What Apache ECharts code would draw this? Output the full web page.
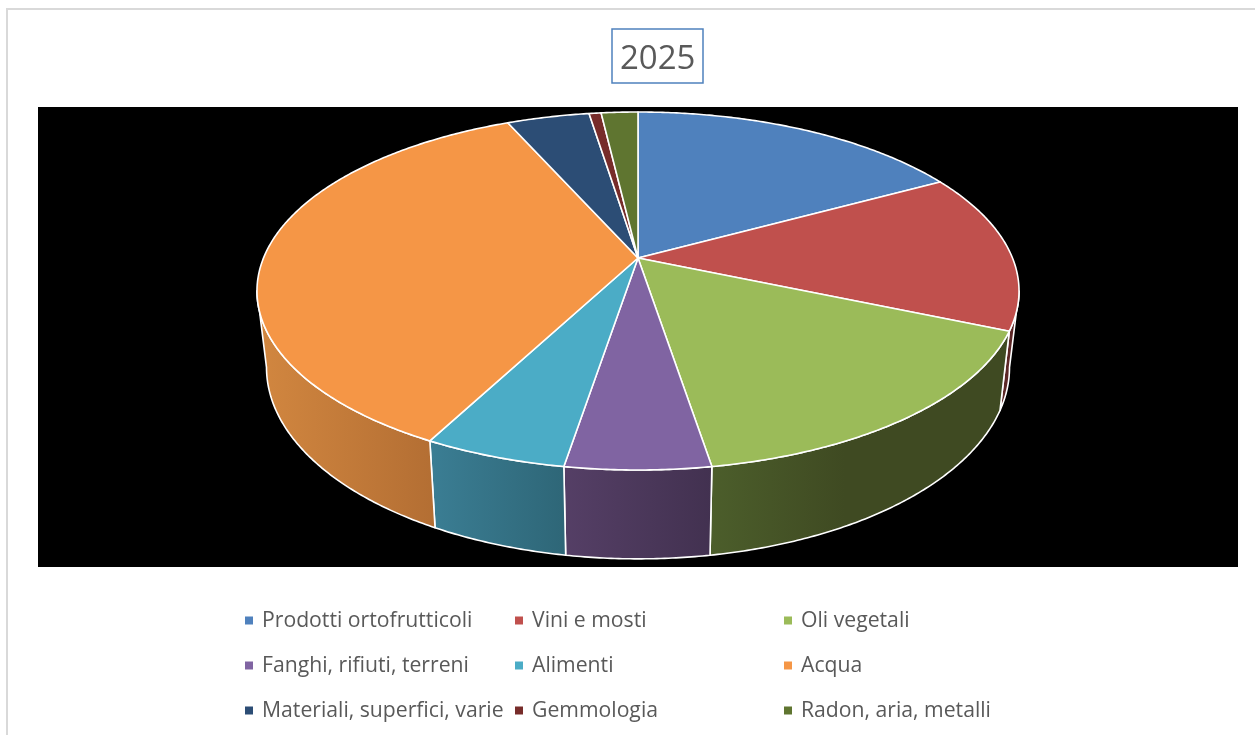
<!DOCTYPE html>
<html><head><meta charset="utf-8">
<style>html,body{margin:0;padding:0;background:#fff}#c{width:1255px;height:735px}</style>
<script src="https://cdn.jsdelivr.net/npm/echarts@6/dist/echarts.min.js"></script>
</head><body><div id="c"></div>
<script>
const titleText = '2025';
const categories = ['Prodotti ortofrutticoli','Vini e mosti','Oli vegetali','Fanghi, rifiuti, terreni','Alimenti','Acqua','Materiali, superfici, varie','Gemmologia','Radon, aria, metalli'];
const shares = [17.06,14.36,16.0,5.17,5.11,35.64,4.19,0.61,1.86];
const topColors = ['#4f81bd','#c0504d','#9bbb59','#8064a2','#4bacc6','#f59646','#2c4d75','#772c2a','#5f7530'];
const sideLeft = ['#3f6797','#5e2a28','#4c5e2b','#553f66','#3b7e94','#d28740','#23405f','#5e2321','#4c5d26'];
const sideRight = ['#3f6797','#5a2424','#3f4a22','#423150','#2e6677','#b36e33','#23405f','#5e2321','#4c5d26'];
const sideStop = [1,1,0.45,1,1,1,1,1,1];

// projection of the disc onto the page
const cx = 638, cy = 258, R = 374.5, H = 172.9, k = 0.1843;
const dropScaleX = 0.975, dropScaleY = 1.07, dropShift = 56;
const frontFrom = 100.6, frontTo = 259.4;

function topPoint(deg){
  const a = deg*Math.PI/180, u = Math.sin(a), v = Math.cos(a), w = 1+k*v;
  return [cx+R*u/w, cy-H*v/w];
}
function lowPoint(deg){
  const p = topPoint(deg);
  return [cx+dropScaleX*(p[0]-cx), dropScaleY*p[1]+dropShift];
}
function arc(fn,a,b){
  const out=[], n=Math.max(2,Math.ceil(Math.abs(b-a)/0.5));
  for(let i=0;i<=n;i++) out.push(fn(a+(b-a)*i/n));
  return out;
}
const total = shares.reduce((s,x)=>s+x,0);
function startAngle(i){ let s=0; for(let j=0;j<i;j++) s+=shares[j]; return s/total*360; }

function renderSlice(params, api){
  const i = params.seriesIndex;
  const a = startAngle(i), b = a + api.value(0)/total*360;
  const children = [];
  const sa = Math.max(a,frontFrom), sb = Math.min(b,frontTo);
  if (sb>sa){
    children.push({type:'polygon',shape:{points:arc(topPoint,sa,sb).concat(arc(lowPoint,sb,sa))},
      style:{fill:new echarts.graphic.LinearGradient(0,0,1,0,[{offset:0,color:sideLeft[i]},{offset:sideStop[i],color:sideRight[i]},{offset:1,color:sideRight[i]}]),
             stroke:'#fff',lineWidth:1.6,lineJoin:'round'}});
  }
  children.push({type:'polygon',shape:{points:[[cx,cy]].concat(arc(topPoint,a,b))},
    style:{fill:topColors[i],stroke:'#fff',lineWidth:1.6,lineJoin:'round'}});
  return {type:'group',children};
}

const series = categories.map((name,i)=>({
  type:'custom',name,coordinateSystem:'none',renderItem:renderSlice,
  itemStyle:{color:topColors[i]},data:[[shares[i]]],silent:true,animation:false
}));

const legendBase = {orient:'vertical',top:610,icon:'rect',itemWidth:8,itemHeight:8,itemGap:24,padding:0,selectedMode:false,
  textStyle:{fontFamily:'Open Sans',fontSize:21.2,color:'#595959',padding:[0,0,0,4]}};
const legendCols = [245,515,784];
const legend = legendCols.map((left,c)=>Object.assign({},legendBase,{left,data:[categories[c],categories[c+3],categories[c+6]]}));

const chart = echarts.init(document.getElementById('c'),null,{renderer:'canvas'});
chart.setOption({
  animation:false,backgroundColor:'#fff',
  title:{text:titleText,left:612,top:29,padding:[12,8,4,8],borderColor:'#4f81bd',borderWidth:1.5,
    textStyle:{fontFamily:'Open Sans',fontSize:33,fontWeight:'normal',color:'#595959',lineHeight:38}},
  legend,
  graphic:[
    {type:'rect',shape:{x:7,y:9,width:1260,height:740},style:{fill:'#fff',stroke:'#d9d9d9',lineWidth:2},z:-2},
    {type:'rect',shape:{x:38,y:107,width:1200,height:460},style:{fill:'#000'},z:-1}
  ],
  series
});
</script></body></html>
